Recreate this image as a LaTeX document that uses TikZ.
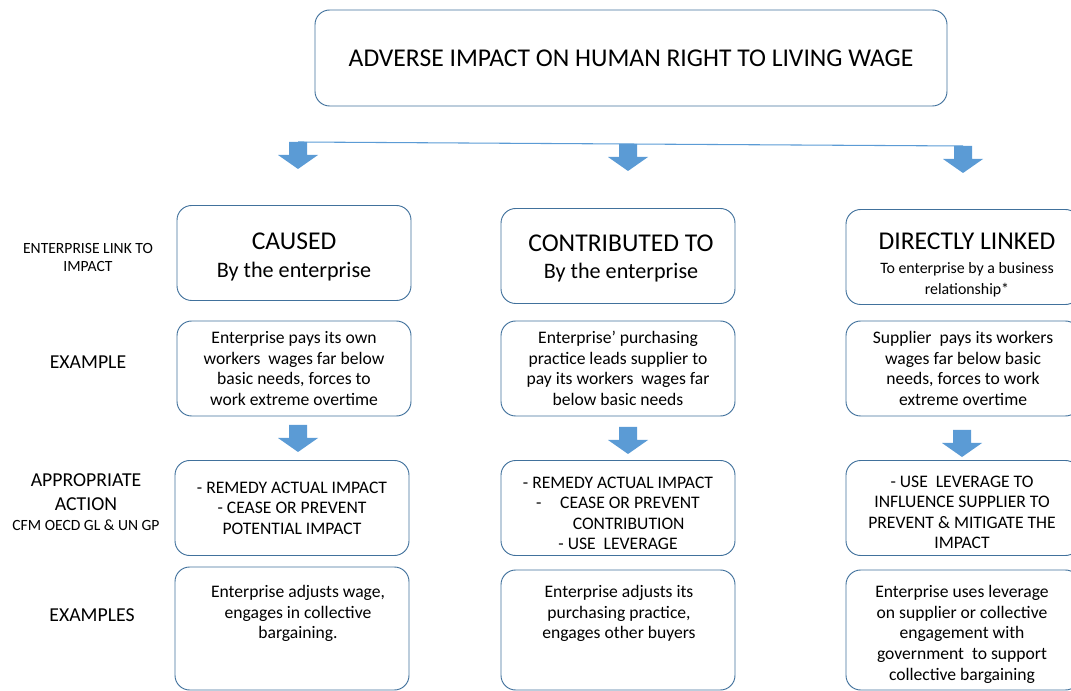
\documentclass[tikz,border=0pt]{standalone}
\usepackage{fontspec}
\setmainfont{Carlito}
\usepackage{xcolor}
\definecolor{boxblue}{HTML}{41719C}
\definecolor{arrowblue}{HTML}{5B9BD5}

% block arrow pointing down, hung from a named coordinate
\newcommand{\bluearrow}[1]{%
  \fill[arrowblue, shift={(#1)}] (-9,0) -- (9,0) -- (9,13) -- (20,13)
    -- (0,27) -- (-20,13) -- (-9,13) -- cycle;}

\begin{document}
\begin{tikzpicture}[x=0.75pt,y=-0.75pt,
    box/.style={draw=boxblue, line width=0.7pt, rounded corners=11pt,
      minimum width=175.5pt, minimum height=71.25pt, align=center, inner sep=0pt},
    lowbox/.style={box, minimum height=90pt},
    body/.style={font=\fontsize{13.2}{15.4}\selectfont},
    head/.style={align=center, font=\fontsize{19.2}{21.8}\selectfont},
    side/.style={align=center, font=\fontsize{14.8}{18}\selectfont},
    small/.style={align=center, font=\fontsize{11.7}{13.5}\selectfont}]

      \useasboundingbox (0,0) rectangle (1071,691);

      % TITLE
      \node[box, head, minimum width=474pt, minimum height=72pt] (title) at (631,58)
      {ADVERSE IMPACT ON HUMAN RIGHT TO LIVING WAGE};

      % split into the three links
      \coordinate (split1) at (298,142);
      \coordinate (split2) at (628,144);
      \coordinate (split3) at (963,146);
      \bluearrow{split1}
      \bluearrow{split2}
      \bluearrow{split3}
      \draw[arrowblue, line width=0.8pt] (split1) -- (split2) -- (split3);

      % row labels
      \node[small] (linklabel) at (88,257) {ENTERPRISE LINK TO\\IMPACT};
      \node[side] (examplelabel) at (88,362) {EXAMPLE};
      \node[side] (actionlabel) at (86,502)
      {APPROPRIATE\\ACTION\\[-3pt]{\fontsize{11.7}{13.5}\selectfont CFM OECD GL \& UN GP}};
      \node[side] (exampleslabel) at (92,615) {EXAMPLES};

      % link to impact
      \node[box] (caused) at (294,253) {};
      \node[box] (contributed) at (618,256) {};
      \node[box] (linked) at (963,257) {};
      \node[head] (causedtxt) at (294,257)
      {CAUSED\\[-1pt]{\fontsize{16.6}{20}\selectfont By the enterprise}};
      \node[head] (contributedtxt) at (621,258.5)
      {CONTRIBUTED TO\\[-1pt]{\fontsize{16.6}{20}\selectfont By the enterprise}};
      \node[head] (linkedtxt) at (967,265)
      {DIRECTLY LINKED\\[-3.75pt]{\fontsize{11.9}{14}\selectfont To enterprise by a business}\\[-6.25pt]
        {\fontsize{11.9}{14}\selectfont relationship*}};

      % example
      \node[box, body] (causedex) at (294,368.5)
      {Enterprise pays its own\\workers\hspace{3pt} wages far below\\basic needs, forces to\\work extreme overtime};
      \node[box, body] (contributedex) at (618,368.5)
      {Enterprise’ purchasing\\practice leads supplier to\\pay its workers\hspace{3pt} wages far\\below basic needs};
      \node[box, body] (linkedex) at (963,368.5)
      {Supplier\hspace{3pt} pays its workers\\wages far below basic\\needs, forces to work\\extreme overtime};

      % down to the action
      \coordinate (step1) at (298,425);
      \coordinate (step2) at (628,427);
      \coordinate (step3) at (962,430);
      \bluearrow{step1}
      \bluearrow{step2}
      \bluearrow{step3}

      % appropriate action
      \node[box, body] (causedact) at (292,508)
      {- REMEDY ACTUAL IMPACT\\- CEASE OR PREVENT\\POTENTIAL IMPACT};
      \node[box] (contributedact) at (618,508) {};
      \node[box] (linkedact) at (963,508) {};
      \node[body, align=center] (contributedacttxt) at (618,513.5)
      {- REMEDY ACTUAL IMPACT\\-\hspace{14pt}CEASE OR PREVENT\\\hspace*{16pt}CONTRIBUTION\\- USE\hspace{3pt} LEVERAGE};
      \node[body, align=center] (linkedacttxt) at (962,512.5)
      {- USE\hspace{3pt} LEVERAGE TO\\INFLUENCE SUPPLIER TO\\PREVENT \& MITIGATE THE\\IMPACT};

      % examples
      \node[lowbox, minimum height=92.25pt] (causedbox) at (292,628.5) {};
      \node[lowbox] (contributedbox) at (618,630) {};
      \node[lowbox] (linkedbox) at (963,630) {};
      \node[body, align=center, anchor=north] (causedexs) at (298,581)
      {Enterprise adjusts wage,\\engages in collective\\bargaining.};
      \node[body, align=center, anchor=north] (contributedexs) at (619,581)
      {Enterprise adjusts its\\purchasing practice,\\engages other buyers};
      \node[body, align=center, anchor=north] (linkedexs) at (962,581)
      {Enterprise uses leverage\\on supplier or collective\\engagement with\\government\hspace{3pt} to support\\collective bargaining};

\end{tikzpicture}
\end{document}
